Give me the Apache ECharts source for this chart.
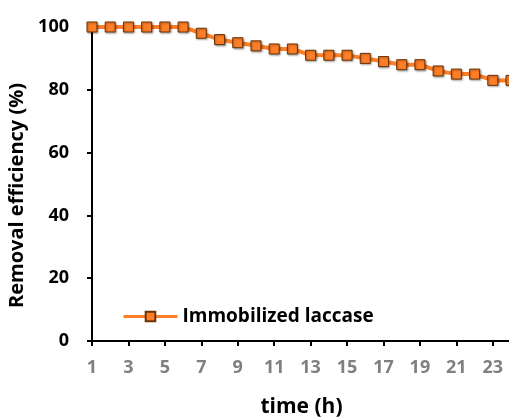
<!DOCTYPE html>
<html>
<head>
<meta charset="utf-8">
<script src="https://cdn.jsdelivr.net/npm/echarts@6/dist/echarts.min.js"></script>
<style>
  html, body { margin: 0; padding: 0; background: #fff; }
  #chart { width: 509px; height: 419px; }
</style>
</head>
<body>
<div id="chart"></div>
<script>
// time points (h)
const hours = ['1','2','3','4','5','6','7','8','9','10','11','12','13','14','15','16','17','18','19','20','21','22','23','24'];
// removal efficiency (%)
const removal = [100, 100, 100, 100, 100, 100, 98, 96, 95, 94, 93, 93, 91, 91, 91, 90, 89, 88, 88, 86, 85, 85, 83, 83];
const yTicks = [0, 100, 20];  // min, max, step

const chart = echarts.init(document.getElementById('chart'));

const fontFam = '"Open Sans", sans-serif';

let option = {
    animation: false,
    backgroundColor: '#ffffff',
    grid: {
        left: 92,
        top: 27,
        bottom: 78,
        right: -2,
        containLabel: false,
        outerBoundsMode: 'none'
    },
    legend: {
        left: 117,
        top: 302,
        itemWidth: 54,
        itemHeight: 12,
        itemGap: 4,
        data: ['Immobilized laccase'],
        lineStyle: { width: 3 },
        textStyle: { fontFamily: fontFam, fontWeight: 'bold', fontSize: 19, color: '#000' }
    },
    xAxis: {
        type: 'category',
        data: hours,
        boundaryGap: false,
        name: 'time (h)',
        nameLocation: 'middle',
        nameGap: 56,
        nameTextStyle: { fontFamily: fontFam, fontWeight: 'bold', fontSize: 21, color: '#000' },
        axisLine: { lineStyle: { color: '#000', width: 2 } },
        axisTick: { show: true, interval: 1, length: 5, lineStyle: { color: '#000', width: 2 } },
        axisLabel: {
            interval: 1,
            margin: 18,
            fontFamily: fontFam,
            fontWeight: 'bold',
            fontSize: 18,
            color: '#808080'
        },
        splitLine: { show: false }
    },
    yAxis: {
        type: 'value',
        min: yTicks[0],
        max: yTicks[1],
        interval: yTicks[2],
        name: 'Removal efficiency (%)',
        nameLocation: 'middle',
        nameGap: 57,
        nameRotate: 90,
        nameTextStyle: { fontFamily: fontFam, fontWeight: 'bold', fontSize: 20, color: '#000', padding: [0, 23, 0, 0] },
        axisLine: { show: true, lineStyle: { color: '#000', width: 2 } },
        axisTick: { show: true, length: 5, lineStyle: { color: '#000', width: 2 } },
        axisLabel: {
            margin: 23,
            fontFamily: fontFam,
            fontWeight: 'bold',
            fontSize: 18,
            color: '#000'
        },
        splitLine: { show: false }
    },
    series: [
        {
            name: 'Immobilized laccase',
            type: 'line',
            data: removal,
            symbol: 'rect',
            symbolSize: 10,
            clip: false,
            lineStyle: { color: '#ff7f27', width: 4 },
            itemStyle: {
                color: '#ff7f27',
                borderColor: '#6b3306',
                borderWidth: 1,
                shadowBlur: 2,
                shadowOffsetX: 1,
                shadowOffsetY: 1,
                shadowColor: 'rgba(0,0,0,0.35)'
            }
        }
    ]
};

chart.setOption(option);
</script>
</body>
</html>
